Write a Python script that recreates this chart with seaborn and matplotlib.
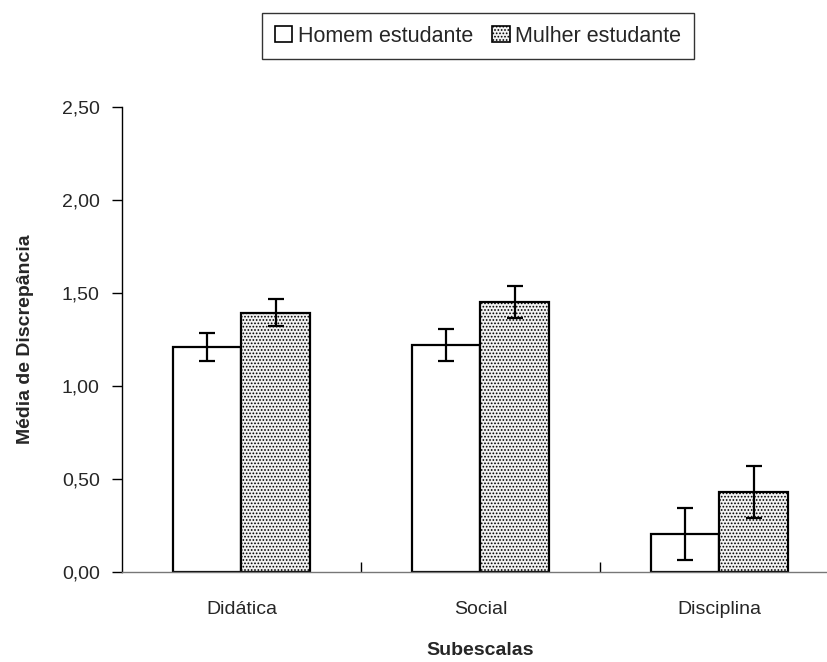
import numpy as np
import pandas as pd
import matplotlib
matplotlib.use('Agg')
import matplotlib.pyplot as plt
import seaborn as sns
from matplotlib.patches import Patch

# data
subescalas = ['Didática', 'Social', 'Disciplina']
grupos = ['Homem estudante', 'Mulher estudante']
media_homem = [1.21, 1.22, 0.205]
media_mulher = [1.395, 1.45, 0.43]
erro_homem = [0.076, 0.087, 0.14]
erro_mulher = [0.075, 0.087, 0.14]
y_ticks = [0.0, 0.5, 1.0, 1.5, 2.0, 2.5]

sns.set_style('white')
plt.rcParams['font.family'] = ['Liberation Sans', 'DejaVu Sans']
plt.rcParams['hatch.color'] = '#ababab'
plt.rcParams['hatch.linewidth'] = 0.8

df = pd.DataFrame({
    'sub': subescalas * 2,
    'grupo': [grupos[0]] * 3 + [grupos[1]] * 3,
    'media': media_homem + media_mulher,
    'erro': erro_homem + erro_mulher,
})

fig = plt.figure(figsize=(8.28, 6.62), dpi=100)
ax = fig.add_axes([122 / 828, 90 / 662, 717 / 828, 465 / 662])

sns.barplot(data=df, x='sub', y='media', hue='grupo', order=subescalas,
            hue_order=grupos, palette=['white', '#f2f2f2'], width=0.57,
            errorbar=None, edgecolor='black', linewidth=1.6, ax=ax,
            legend=False, zorder=2)

# second group gets the dotted fill
bars = ax.patches
for b in bars[3:6]:
    b.set_hatch('.....')

# error bars at the bar centres
for i, b in enumerate(bars[:6]):
    xc = b.get_x() + b.get_width() / 2
    ax.errorbar(xc, b.get_height(), yerr=df['erro'][i], fmt='none',
                ecolor='black', elinewidth=1.6, capsize=6, capthick=1.6,
                zorder=3)

ax.set_xlim(-0.5, 2.5)
ax.set_ylim(0, 2.5)
ax.set_yticks(y_ticks)
ax.set_yticklabels([f'{v:.2f}'.replace('.', ',') for v in y_ticks], fontsize=14)
ax.set_xticks([0, 1, 2])
ax.set_xticklabels(subescalas, fontsize=14)
ax.tick_params(axis='x', length=0, pad=21)
ax.tick_params(axis='y', direction='out', length=7, width=1, color='black',
               pad=9, left=True)

# inward ticks at the boundaries between groups
ax.set_xticks([0.5, 1.5, 2.5], minor=True)
ax.tick_params(axis='x', which='minor', direction='in', length=7, width=1,
               color='black', bottom=True)

for s in ['top', 'right']:
    ax.spines[s].set_visible(False)
ax.spines['left'].set_color('black')
ax.spines['left'].set_linewidth(1)
ax.spines['bottom'].set_color('#777777')
ax.spines['bottom'].set_linewidth(1)

ax.set_xlabel('Subescalas', fontsize=14, fontweight='bold', labelpad=17)
ax.set_ylabel('Média de Discrepância', fontsize=14, fontweight='bold',
              labelpad=20)

handles = [Patch(facecolor='white', edgecolor='black', linewidth=1.2),
           Patch(facecolor='#f2f2f2', edgecolor='black', linewidth=1.2,
                 hatch='.....')]
leg = fig.legend(handles, grupos, loc='center', ncol=2,
                 bbox_to_anchor=(478 / 828, 1 - 36 / 662), fontsize=15.5,
                 frameon=True, fancybox=False, edgecolor='black',
                 handlelength=0.8, handleheight=0.8, handletextpad=0.25,
                 columnspacing=0.9, borderpad=0.6, borderaxespad=0)
leg.get_frame().set_linewidth(1)

fig.savefig('out.png', dpi=100)
